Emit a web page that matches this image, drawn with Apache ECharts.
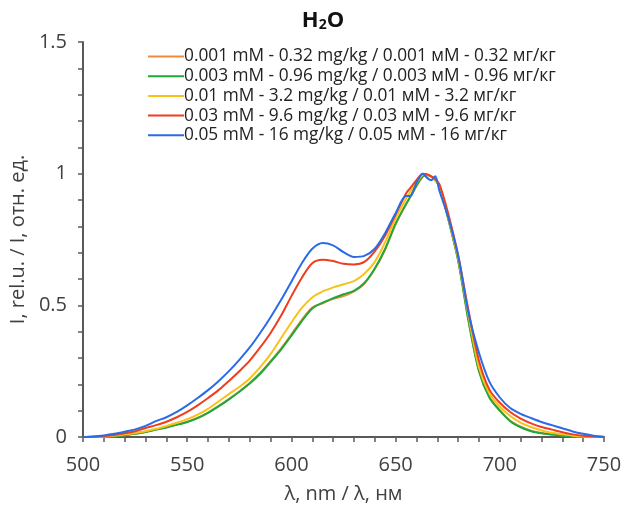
<!DOCTYPE html>
<html>
<head>
<meta charset="utf-8">
<script src="https://cdn.jsdelivr.net/npm/echarts@6/dist/echarts.min.js"></script>
<style>
  html, body { margin: 0; padding: 0; background: #fff; }
  #chart { width: 628px; height: 513px; }
</style>
</head>
<body>
<div id="chart"></div>
<script>
// длины волн, нм
var wavelengths = [500, 505, 510, 515, 520, 525, 530, 535, 540, 545, 550, 555, 560, 565, 570, 575, 580, 585, 590, 595,
    600, 605, 610, 615, 620, 625, 630, 635, 640, 645, 650, 655, 657, 660, 663, 665, 667, 669, 671, 675,
    680, 685, 690, 695, 700, 705, 710, 715, 720, 725, 730, 735, 740, 745, 750];

var seriesNames = [
    '0.001 mM - 0.32 mg/kg / 0.001 мМ - 0.32 мг/кг',
    '0.003 mM - 0.96 mg/kg / 0.003 мМ - 0.96 мг/кг',
    '0.01 mM - 3.2 mg/kg / 0.01 мМ - 3.2 мг/кг',
    '0.03 mM - 9.6 mg/kg / 0.03 мМ - 9.6 мг/кг',
    '0.05 mM - 16 mg/kg / 0.05 мМ - 16 мг/кг'
];

var colors = ['#ef8a3c', '#1fa83a', '#f8c21a', '#ee3d1f', '#2b6be6'];

// интенсивность, отн. ед.
var c0001 = [0, 0, 0.001, 0.003, 0.007, 0.012, 0.019, 0.028, 0.037, 0.047, 0.058, 0.073, 0.093, 0.117, 0.144, 0.173, 0.205, 0.243, 0.288, 0.336,
    0.39, 0.445, 0.492, 0.508, 0.525, 0.535, 0.553, 0.583, 0.638, 0.712, 0.808, 0.883, 0.91, 0.952, 0.988, 0.994, 0.99, 0.975, 0.955, 0.838,
    0.672, 0.442, 0.252, 0.152, 0.102, 0.062, 0.039, 0.024, 0.015, 0.01, 0.006, 0.003, 0.001, 0, 0];
var c0003 = [0, 0, 0.001, 0.003, 0.007, 0.012, 0.019, 0.028, 0.036, 0.046, 0.057, 0.072, 0.092, 0.116, 0.143, 0.172, 0.203, 0.24, 0.285, 0.332,
    0.385, 0.44, 0.488, 0.51, 0.527, 0.542, 0.555, 0.585, 0.64, 0.715, 0.81, 0.885, 0.912, 0.955, 0.99, 0.995, 0.99, 0.975, 0.952, 0.835,
    0.67, 0.44, 0.25, 0.15, 0.1, 0.06, 0.037, 0.022, 0.014, 0.009, 0.005, 0.002, 0.001, 0, 0];
var c001 = [0, 0.001, 0.002, 0.005, 0.009, 0.015, 0.022, 0.031, 0.042, 0.054, 0.068, 0.085, 0.107, 0.135, 0.163, 0.19, 0.222, 0.265, 0.315, 0.375,
    0.435, 0.49, 0.53, 0.553, 0.568, 0.58, 0.592, 0.62, 0.665, 0.74, 0.83, 0.905, 0.93, 0.965, 0.995, 0.997, 0.99, 0.975, 0.955, 0.84,
    0.68, 0.46, 0.265, 0.165, 0.115, 0.08, 0.055, 0.038, 0.025, 0.016, 0.01, 0.005, 0.002, 0.001, 0];
var c003 = [0, 0.001, 0.004, 0.008, 0.014, 0.022, 0.034, 0.045, 0.058, 0.075, 0.095, 0.12, 0.148, 0.178, 0.213, 0.25, 0.29, 0.34, 0.395, 0.46,
    0.535, 0.605, 0.66, 0.673, 0.668, 0.658, 0.655, 0.665, 0.705, 0.765, 0.845, 0.925, 0.945, 0.975, 1.0, 0.998, 0.99, 0.98, 0.96, 0.855,
    0.69, 0.48, 0.29, 0.18, 0.13, 0.095, 0.07, 0.052, 0.038, 0.028, 0.018, 0.01, 0.005, 0.002, 0];
var c005 = [0, 0.002, 0.006, 0.012, 0.02, 0.029, 0.042, 0.06, 0.075, 0.095, 0.12, 0.148, 0.178, 0.212, 0.25, 0.293, 0.34, 0.395, 0.455, 0.52,
    0.59, 0.66, 0.715, 0.737, 0.728, 0.702, 0.684, 0.688, 0.715, 0.775, 0.85, 0.915, 0.915, 0.965, 1.0, 0.985, 0.975, 0.99, 0.935, 0.84,
    0.69, 0.47, 0.32, 0.21, 0.15, 0.11, 0.088, 0.072, 0.057, 0.045, 0.033, 0.021, 0.012, 0.005, 0.001];

var values = [c0001, c0003, c001, c003, c005];

function pairs(ys) {
    return wavelengths.map(function (x, i) { return [x, ys[i]]; });
}

var axisColor = '#595959';
var textColor = '#404040';
var fontFamily = '"Open Sans", "Noto Sans", sans-serif';

var chart = echarts.init(document.getElementById('chart'));

function axisCommon() {
    return {
        axisLine: { show: true, onZero: false, lineStyle: { color: axisColor, width: 2 } },
        axisTick: { show: true, inside: false, length: 5, lineStyle: { color: axisColor, width: 1.5 } },
        minorTick: { show: true, splitNumber: 5, length: 5, lineStyle: { color: axisColor, width: 1.5 } },
        splitLine: { show: false },
        minorSplitLine: { show: false }
    };
}

var xAxis = Object.assign(axisCommon(), {
    type: 'value',
    min: 500,
    max: 750,
    interval: 50,
    name: 'λ, nm / λ, нм',
    nameLocation: 'middle',
    nameGap: 47,
    nameTextStyle: { fontSize: 20, color: textColor },
    axisLabel: { fontSize: 20, color: textColor, margin: 18 }
});

var yAxis = Object.assign(axisCommon(), {
    type: 'value',
    min: 0,
    max: 1.5,
    interval: 0.5,
    name: 'I, rel.u. / I, отн. ед.',
    nameLocation: 'middle',
    nameGap: 52,
    nameTextStyle: { fontSize: 20, color: textColor },
    axisLabel: { fontSize: 20, color: textColor, margin: 16 }
});

var option = {
    animation: false,
    color: colors,
    textStyle: { fontFamily: fontFamily },
    title: {
        text: 'H{sub|2}O',
        left: 318,
        textAlign: 'center',
        top: 4,
        textStyle: {
            fontSize: 22,
            fontWeight: 'bold',
            color: '#111',
            fontFamily: fontFamily,
            rich: {
                sub: { fontSize: 14, fontWeight: 'bold', color: '#111', verticalAlign: 'bottom', padding: [9, 0, 0, 0] }
            }
        }
    },
    legend: {
        orient: 'vertical',
        left: 143,
        top: 43,
        itemWidth: 36,
        itemHeight: 14,
        itemGap: 2.7,
        icon: 'path://M0,6 L36,6 L36,8 L0,8 Z',
        textStyle: { fontSize: 17.3, lineHeight: 17, color: '#222', padding: [0, 0, 0, -5] },
        data: seriesNames
    },
    grid: { left: 82, right: 24, top: 42, bottom: 76 },
    xAxis: xAxis,
    yAxis: yAxis,
    series: values.map(function (ys, i) {
        return {
            name: seriesNames[i],
            type: 'line',
            data: pairs(ys),
            symbol: 'none',
            smooth: 0.3,
            lineStyle: { width: 2, color: colors[i] },
            itemStyle: { color: colors[i] },
            z: 2 + i
        };
    })
};

chart.setOption(option);
</script>
</body>
</html>
